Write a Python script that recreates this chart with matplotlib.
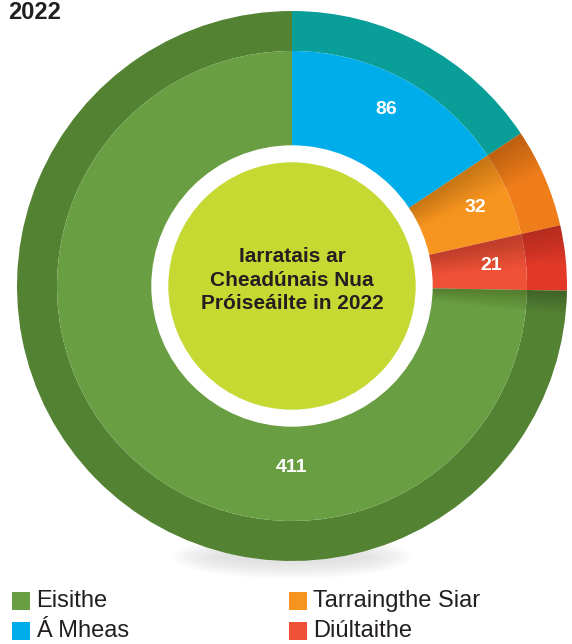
import matplotlib
matplotlib.use("Agg")
import matplotlib.pyplot as plt
import numpy as np
from matplotlib.patches import Circle, Ellipse, Rectangle, Wedge

# data
categories = ["Á Mheas", "Tarraingthe Siar", "Diúltaithe", "Eisithe"]
values = [86, 32, 21, 411]
outer_colors = ["#0a9e99", "#ee7d1a", "#e33a28", "#548233"]
inner_colors = ["#00adeb", "#f7941f", "#ee5136", "#6a9e42"]
legend_order = ["Eisithe", "Á Mheas", "Tarraingthe Siar", "Diúltaithe"]
center_text = "Iarratais ar\nCheadúnais Nua\nPróiseáilte in 2022"
year_title = "2022"

W, H = 572, 644
fig = plt.figure(figsize=(W / 100, H / 100), dpi=100)
ax = fig.add_axes([0, 0, 1, 1])

cx, cy = 292, H - 286
R_out = 275
R_in = 235

outer, _ = ax.pie(values, radius=R_out, center=(cx, cy), colors=outer_colors, startangle=90,
                  counterclock=False, wedgeprops=dict(width=R_out - R_in, linewidth=0))
wedges, _ = ax.pie(values, radius=R_in, center=(cx, cy), colors=inner_colors, startangle=90,
                   counterclock=False, wedgeprops=dict(linewidth=0))

# shading where one slice meets the next
for w, step in zip(wedges[1:], [0.9, 0.8, 0.5]):
    for k in range(10):
        span = step * (k + 1)
        ax.add_patch(Wedge((cx, cy), R_out, w.theta2 - span, w.theta2, width=R_out - 140,
                           color="black", alpha=0.02, linewidth=0, zorder=2))

# soft shadow under the ring
for i in range(12):
    ax.add_patch(Ellipse((cx, cy - R_out + 4), 240 - i * 8, 44 - i * 3, color="#8a8a8a",
                         alpha=0.02, zorder=0, linewidth=0))

ax.add_patch(Circle((cx, cy), 140, color="white", zorder=3))
ax.add_patch(Circle((cx, cy), 123, color="#c5d932", zorder=4))
ax.text(cx, cy + 6, center_text, ha="center", va="center", fontsize=15, fontweight="bold",
        family=["Liberation Sans", "DejaVu Sans"], color="#231f20", linespacing=1.3, zorder=5)

for w, v in zip(wedges, values):
    if v == 411:
        x, y = cx, cy - 181
    else:
        ang = np.deg2rad((w.theta1 + w.theta2) / 2)
        r = 200
        x, y = cx + r * np.cos(ang), cy + r * np.sin(ang)
    ax.text(x, y, str(v), ha="center", va="center", color="white", fontsize=14,
            fontweight="bold", family=["Liberation Sans", "DejaVu Sans"], zorder=5)

ax.text(8, H - 12, year_title, ha="left", va="center", fontsize=17, fontweight="bold",
        color="#231f20", family=["Liberation Sans", "DejaVu Sans"])

# legend
col_x = [12, 289]
row_y = [H - 601, H - 631]
color_map = dict(zip(categories, inner_colors))
for i, name in enumerate(legend_order):
    x = col_x[i // 2]
    y = row_y[i % 2]
    ax.add_patch(Rectangle((x, y - 9), 18, 18, color=color_map[name], linewidth=0))
    ax.text(x + 24, y, name, ha="left", va="center", fontsize=17, color="#231f20",
            family=["Liberation Sans", "DejaVu Sans"])

ax.set_xlim(0, W)
ax.set_ylim(0, H)
ax.set_aspect("equal")
ax.axis("off")
fig.savefig("out.png", dpi=100)
